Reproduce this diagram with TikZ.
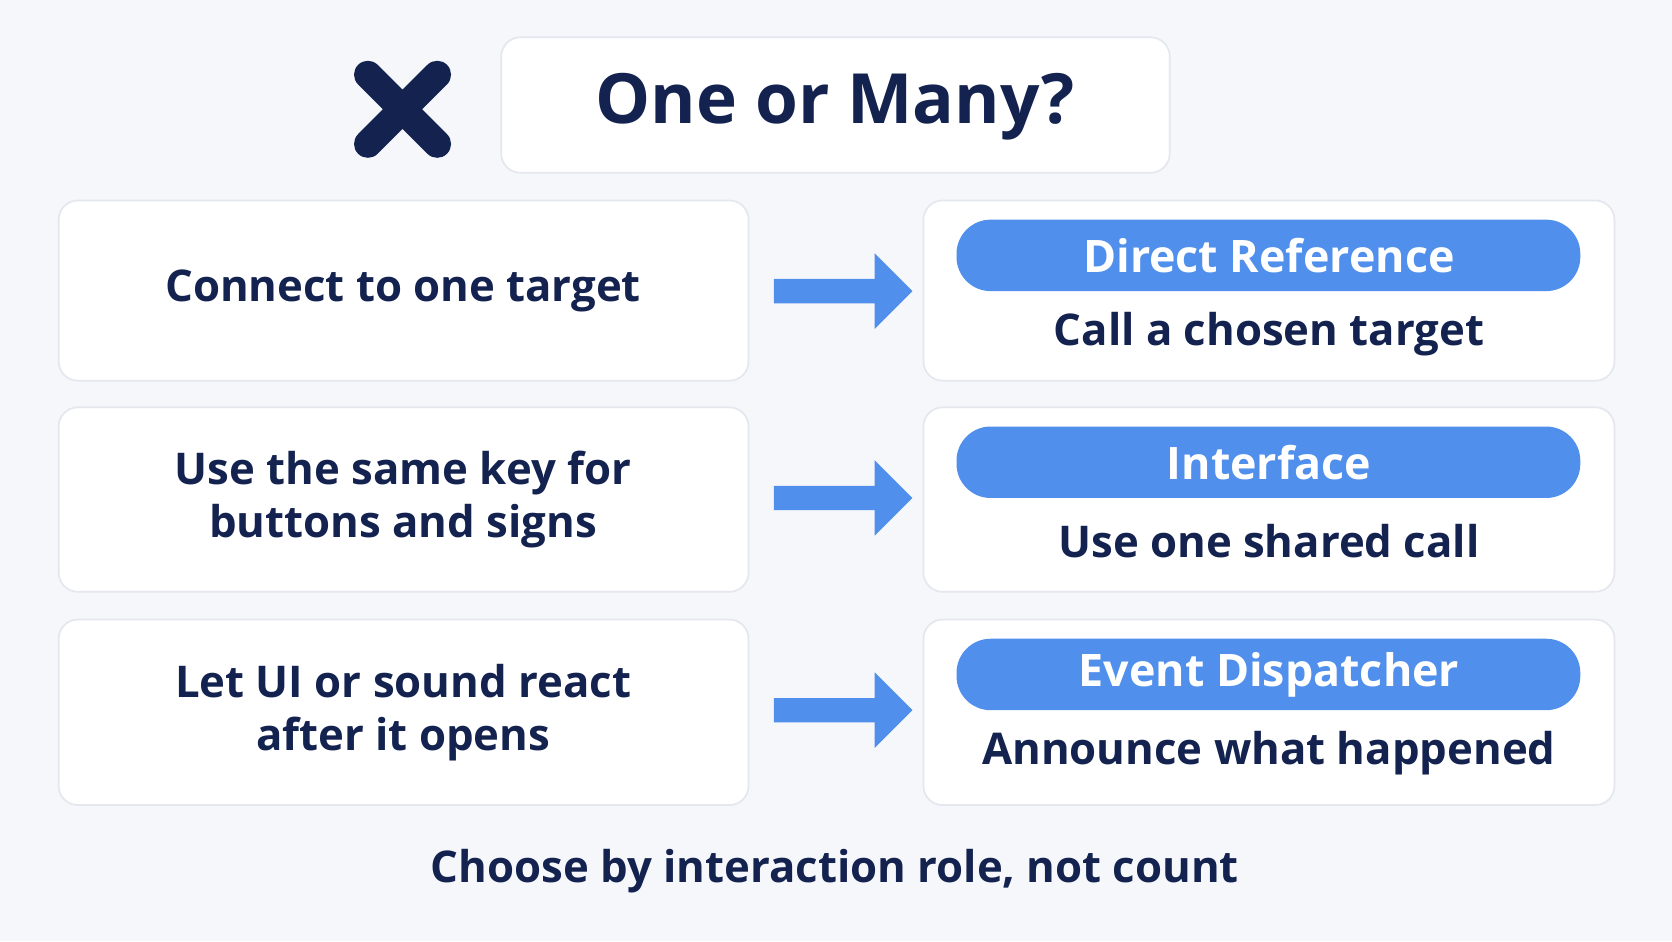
\documentclass[tikz,border=0pt]{standalone}
\usepackage{fontspec}
\setmainfont{Open Sans}
\usetikzlibrary{shapes.arrows}
\definecolor{ink}{HTML}{13224F}
\definecolor{pill}{HTML}{5090EC}
\definecolor{bg}{HTML}{F6F7FA}
\definecolor{edge}{HTML}{E4E7EE}
\begin{document}
\begin{tikzpicture}[x=0.5pt,y=-0.5pt,
    card/.style={draw=edge, fill=white, rounded corners=9pt, line width=0.8pt},
    side/.style={font=\bfseries\fontsize{20.5}{25}\selectfont, text=ink, align=center},
    go/.style={single arrow, fill=pill, draw=none, inner sep=0pt, text height=5.5pt, text depth=5.5pt,
        minimum height=65pt, single arrow head extend=12pt},
  ]
  \fill[bg] (0,0) rectangle (1568,882.5);
  \useasboundingbox (0,0) rectangle (1568,882.5);
  % heading
  \draw[card] (470,35) rectangle (1097,162);
  \node[font=\bfseries\fontsize{32.5}{38}\selectfont, text=ink] (title) at (783,100) {One or Many?};
  \draw[ink, line width=13pt, line cap=round] (345,70) -- (410,135) (410,70) -- (345,135);
  % rows
  \foreach \i/\top/\bot/\need/\name/\sub in {%
      1/188/357/{Connect to one target}/{Direct Reference}/{Call a chosen target},
      2/382/555/{Use the same key for\\buttons and signs}/{Interface}/{Use one shared call},
      3/581/755/{Let UI or sound react\\after it opens}/{Event Dispatcher}/{Announce what happened}}{
    \draw[card] (55,\top) rectangle (702,\bot);
    \draw[card] (866,\top) rectangle (1514,\bot);
    \node[side] (need\i) at (378,{(\top+\bot)/2}) {\need};
    \fill[pill, rounded corners=16pt] (897,\top+18) rectangle (1482,\top+85);
    \node[text=white, font=\bfseries\fontsize{21}{25}\selectfont] (tag\i) at (1190,\top+52) {\name};
    \node[side] (sub\i) at (1190,\top+125) {\sub};
    \node[go] (arrow\i) at (785,\top+85) {};
  }
  \node[side] (foot) at (783,817) {Choose by interaction role, not count};
\end{tikzpicture}
\end{document}
